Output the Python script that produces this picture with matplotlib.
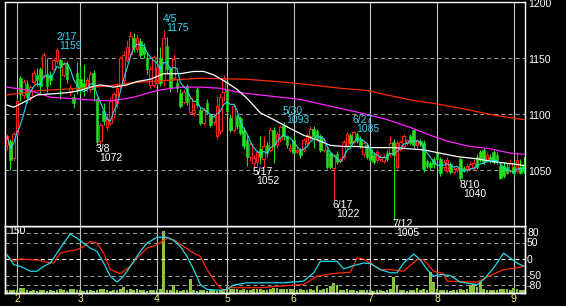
import numpy as np
import pandas as pd
import matplotlib
matplotlib.use("Agg")
import matplotlib.pyplot as plt

plt.rcParams['font.family'] = ['Liberation Sans', 'DejaVu Sans']
plt.rcParams['lines.scale_dashes'] = False

# ----------------------------------------------------------------------------------
# Section 0: values
# ----------------------------------------------------------------------------------

# daily candles (open, high, low, close), one list per month
jan_ohlc = [(1072, 1082, 1068, 1080), (1076, 1078, 1050, 1059), (1061, 1084, 1058, 1082)]
feb_ohlc = [
    (1082, 1114, 1080, 1112), (1132, 1134, 1112, 1118), (1117, 1131, 1114, 1129),
    (1127, 1130, 1110, 1115), (1115, 1126, 1112, 1124), (1129, 1139, 1127, 1137),
    (1135, 1141, 1125, 1130), (1140, 1142, 1119, 1125), (1134, 1155, 1132, 1153),
    (1136, 1150, 1120, 1125), (1135, 1138, 1126, 1130), (1140, 1150, 1138, 1148),
    (1147, 1159, 1145, 1157), (1148, 1150, 1113, 1144), (1135, 1147, 1133, 1145),
    (1145, 1147, 1128, 1131), (1120, 1126, 1116, 1123), (1115, 1118, 1105, 1110),
    (1137, 1146, 1118, 1122)]
mar_ohlc = [
    (1131, 1143, 1118, 1122), (1128, 1145, 1116, 1124), (1124, 1133, 1120, 1130),
    (1122, 1138, 1120, 1136), (1137, 1139, 1112, 1122), (1113, 1115, 1072, 1075),
    (1076, 1092, 1073, 1090), (1103, 1110, 1090, 1094), (1088, 1100, 1086, 1096),
    (1092, 1115, 1090, 1112), (1100, 1120, 1096, 1118), (1110, 1127, 1105, 1123),
    (1125, 1152, 1122, 1150), (1130, 1156, 1127, 1153), (1148, 1166, 1146, 1160),
    (1154, 1174, 1150, 1170), (1168, 1172, 1155, 1160), (1158, 1171, 1155, 1168),
    (1165, 1168, 1150, 1153), (1160, 1163, 1150, 1154), (1150, 1155, 1136, 1140),
    (1126, 1143, 1122, 1140), (1126, 1153, 1124, 1151)]
apr_ohlc = [
    (1128, 1146, 1126, 1142), (1150, 1160, 1125, 1128), (1130, 1175, 1125, 1168),
    (1161, 1169, 1136, 1140), (1140, 1142, 1120, 1123), (1132, 1154, 1130, 1149),
    (1128, 1131, 1120, 1123), (1119, 1122, 1105, 1107), (1111, 1122, 1109, 1120),
    (1125, 1127, 1108, 1111), (1102, 1116, 1100, 1114), (1101, 1110, 1098, 1104),
    (1122, 1124, 1106, 1108), (1104, 1106, 1090, 1092), (1092, 1106, 1090, 1104),
    (1110, 1113, 1100, 1102), (1099, 1101, 1088, 1090), (1093, 1100, 1090, 1098),
    (1080, 1116, 1078, 1107), (1085, 1118, 1082, 1115), (1120, 1135, 1112, 1132)]
may_ohlc = [
    (1122, 1124, 1100, 1103), (1096, 1100, 1084, 1086), (1086, 1110, 1084, 1107),
    (1098, 1100, 1087, 1089), (1096, 1098, 1081, 1083), (1086, 1088, 1069, 1071),
    (1077, 1080, 1054, 1062), (1062, 1075, 1058, 1073), (1056, 1063, 1052, 1061),
    (1057, 1068, 1054, 1066), (1069, 1080, 1055, 1062), (1060, 1080, 1053, 1071),
    (1072, 1075, 1062, 1065), (1068, 1088, 1066, 1086), (1086, 1088, 1056, 1072),
    (1072, 1084, 1070, 1082), (1078, 1090, 1075, 1088), (1090, 1093, 1077, 1080),
    (1080, 1081, 1070, 1072), (1068, 1074, 1066, 1070)]
jun_ohlc = [
    (1077, 1080, 1063, 1065), (1066, 1070, 1064, 1068), (1068, 1070, 1061, 1063),
    (1068, 1079, 1066, 1077), (1074, 1083, 1072, 1081), (1080, 1089, 1077, 1087),
    (1087, 1089, 1070, 1080), (1085, 1087, 1076, 1079), (1080, 1082, 1066, 1068),
    (1068, 1079, 1066, 1077), (1068, 1070, 1051, 1053), (1065, 1067, 1051, 1053),
    (1052, 1064, 1022, 1063), (1064, 1067, 1055, 1057), (1058, 1062, 1056, 1060),
    (1062, 1077, 1060, 1075), (1071, 1084, 1069, 1082), (1081, 1083, 1072, 1074),
    (1075, 1085, 1073, 1084), (1082, 1084, 1074, 1076), (1078, 1080, 1070, 1072),
    (1064, 1076, 1062, 1074), (1072, 1074, 1060, 1062)]
jul_ohlc = [
    (1069, 1072, 1057, 1059), (1063, 1066, 1055, 1057), (1059, 1068, 1057, 1066),
    (1060, 1064, 1058, 1062), (1058, 1064, 1056, 1062), (1065, 1068, 1058, 1060),
    (1065, 1080, 1062, 1074), (1075, 1078, 1005, 1063), (1053, 1076, 1051, 1074),
    (1069, 1077, 1067, 1075), (1071, 1082, 1069, 1080), (1074, 1078, 1072, 1077),
    (1080, 1082, 1072, 1074), (1086, 1087, 1070, 1072), (1072, 1078, 1070, 1077),
    (1076, 1078, 1071, 1073), (1074, 1077, 1048, 1051), (1058, 1060, 1052, 1054),
    (1056, 1058, 1050, 1053), (1060, 1062, 1052, 1055)]
aug_ohlc = [
    (1066, 1068, 1058, 1060), (1060, 1062, 1045, 1047), (1053, 1060, 1050, 1057),
    (1049, 1062, 1047, 1059), (1055, 1057, 1046, 1048), (1048, 1054, 1046, 1051),
    (1050, 1053, 1048, 1052), (1060, 1062, 1040, 1043), (1052, 1054, 1048, 1050),
    (1050, 1056, 1048, 1054), (1052, 1058, 1050, 1055), (1052, 1060, 1050, 1056),
    (1062, 1064, 1051, 1053), (1066, 1068, 1057, 1059), (1068, 1070, 1055, 1057),
    (1059, 1066, 1057, 1063), (1062, 1064, 1056, 1058), (1066, 1068, 1055, 1057),
    (1063, 1066, 1055, 1057), (1054, 1056, 1042, 1043), (1054, 1057, 1043, 1045),
    (1053, 1056, 1046, 1047), (1049, 1060, 1047, 1056)]
sep_ohlc = [(1053, 1058, 1045, 1047), (1049, 1066, 1047, 1059),
            (1053, 1060, 1046, 1047), (1054, 1062, 1047, 1049)]

# volume bars (lower panel, scale 0-150)
jan_vol = [7, 7, 6]
feb_vol = [7, 12, 11, 6, 5, 6, 5, 7, 6, 5, 7, 5, 6, 8, 6, 5, 10, 9, 6]
mar_vol = [6, 5, 6, 7, 5, 6, 10, 9, 6, 5, 6, 7, 8, 13, 7, 10, 6, 10, 7, 6, 5, 7, 6]
apr_vol = [6, 8, 138, 7, 6, 19, 6, 5, 6, 7, 31, 6, 5, 7, 6, 5, 7, 6, 5, 7, 8]
may_vol = [13, 8, 9, 9, 7, 8, 7, 6, 8, 9, 9, 7, 6, 8, 12, 11, 8, 10, 10, 10]
jun_vol = [10, 7, 8, 7, 6, 8, 7, 15, 6, 8, 12, 16, 22, 17, 7, 6, 8, 7, 6, 5, 7, 6, 7]
jul_vol = [6, 5, 7, 6, 5, 6, 8, 36, 17, 7, 6, 5, 6, 7, 12, 6, 8, 7, 47, 25]
aug_vol = [8, 7, 6, 6, 5, 7, 6, 8, 6, 9, 17, 20, 14, 25, 8, 7, 6, 7, 6, 9, 8, 10, 7]
sep_vol = [12, 8, 7, 6]

# longer moving averages (day index, price)
white_idx = [0, 2, 6, 9, 18, 22, 25, 28, 32, 36, 39, 43, 47, 52, 56, 59, 62, 66, 69, 72,
             76, 80, 85, 89, 93, 97, 101, 105, 109, 116, 125, 130, 135, 141, 147, 153, 155]
white_val = [1108, 1106, 1112, 1117, 1119, 1121, 1124, 1126, 1124, 1126, 1129, 1131, 1136,
             1136, 1138, 1138, 1135, 1128, 1122, 1114, 1101, 1095, 1087, 1081, 1077, 1072,
             1071, 1071, 1070, 1070, 1068, 1065, 1062, 1060, 1057, 1055, 1054]
magenta_idx = [0, 7, 13, 23, 28, 32, 38, 45, 52, 58, 64, 70, 76, 82, 88, 94, 100, 106,
               114, 121, 127, 133, 139, 145, 151, 155]
magenta_val = [1124, 1121, 1115, 1113, 1112, 1112, 1115, 1121, 1124, 1124, 1123, 1119, 1117,
               1115, 1113, 1109, 1105, 1101, 1095, 1088, 1081, 1075, 1071, 1069, 1065, 1064]
red_idx = [0, 10, 23, 30, 38, 48, 58, 72, 85, 94, 100, 108, 114, 122, 129, 138, 146, 155]
red_val = [1117, 1121, 1123, 1125, 1128, 1130, 1132, 1131, 1128, 1125, 1123, 1121, 1117,
           1112, 1109, 1104, 1099, 1095]

# oscillators in the lower panel (day index, value)
osc_fast_idx = [0, 2, 4, 7, 9, 11, 13, 15, 17, 19, 21, 23, 25, 27, 29, 31, 33, 35, 38, 40,
                42, 45, 48, 50, 52, 54, 56, 58, 60, 64, 66, 68, 72, 78, 83, 89, 92, 94, 99,
                101, 104, 107, 109, 112, 115, 117, 119, 122, 124, 126, 128, 130, 133, 136,
                141, 143, 146, 149, 151, 153, 155]
osc_fast_val = [13, -17, -22, -37, -37, -22, -12, 18, 48, 76, 63, 48, 33, 23, -12, -52, -70,
                -52, -7, 23, 48, 66, 66, 56, 38, 8, -32, -77, -92, -95, -92, -79, -72, -72,
                -72, -67, -42, -7, -7, -30, -20, -12, -14, -32, -42, -42, -12, 15, -2, -32,
                -52, -47, -50, -70, -78, -62, -27, 18, 3, -12, -22]
osc_slow_idx = [0, 2, 4, 7, 10, 12, 14, 16, 18, 21, 23, 25, 27, 29, 31, 34, 37, 39, 42, 45,
                48, 50, 53, 56, 58, 60, 63, 65, 67, 70, 76, 82, 89, 93, 98, 103, 105, 107,
                109, 112, 115, 119, 123, 125, 128, 131, 132, 135, 141, 145, 149, 153, 155]
osc_slow_val = [10, -7, 0, -2, -4, -10, -12, 18, 23, 28, 38, 53, 48, 18, -32, -44, -22, 3,
                33, 43, 63, 58, 38, 18, 8, -32, -77, -97, -87, -87, -87, -82, -77, -52, -44,
                -40, 3, 0, -12, -32, -32, -37, -2, -2, -37, -44, -67, -68, -70, -50, -32,
                -27, -22]

# labelled swing highs and lows
label_idx = [15, 27, 47, 74, 83, 98, 104, 116, 136]
label_date = ['2/17', '3/8', '4/5', '5/17', '5/30', '6/17', '6/27', '7/12', '8/10']
label_kind = ['H', 'L', 'H', 'L', 'H', 'L', 'H', 'L', 'L']

month_names = ['2', '3', '4', '5', '6', '7', '8', '9']
price_ticks = [1050, 1100, 1150, 1200]
osc_ticks = [80, 50, 0, -50, -80]

# ----------------------------------------------------------------------------------
# Section 1: build the daily frame
# ----------------------------------------------------------------------------------

month_ohlc = [jan_ohlc, feb_ohlc, mar_ohlc, apr_ohlc, may_ohlc, jun_ohlc, jul_ohlc, aug_ohlc, sep_ohlc]
month_vol = [jan_vol, feb_vol, mar_vol, apr_vol, may_vol, jun_vol, jul_vol, aug_vol, sep_vol]

df = pd.DataFrame([r for m in month_ohlc for r in m], columns=['open', 'high', 'low', 'close'])
df['volume'] = [v for m in month_vol for v in m]
df['ma_short'] = df['close'].rolling(5, min_periods=1).mean()
month_start = np.cumsum([len(m) for m in month_ohlc])[:-1]
x = np.arange(len(df))

UP = '#ff2020'
DOWN = '#1ee01e'
CYAN = '#22d8ec'
CYAN_TXT = '#3cd4f4'
MAGENTA = '#ff20ff'
RED_MA = '#ff2a00'
GRID = '#c4c4c4'
DASH = '#9a9a9a'
VOL = '#8ac43c'
YELLOW = '#fff080'
FS = 7.5

# ----------------------------------------------------------------------------------
# Section 2: figure
# ----------------------------------------------------------------------------------

W, H = 566, 306
fig = plt.figure(figsize=(W / 100, H / 100), dpi=100, facecolor='black')

def rect(left, top, right, bottom):
    return [left / W, 1 - bottom / H, (right - left) / W, (bottom - top) / H]

ax_vol = fig.add_axes(rect(4.5, 226, 525, 293), zorder=1)
ax_osc = fig.add_axes(rect(4.5, 226, 525, 293), zorder=2)
ax = fig.add_axes(rect(4.5, 2, 525, 226), zorder=3)

xlim = (-0.75, 155.4)
for a in (ax, ax_vol, ax_osc):
    a.set_xlim(*xlim)
    a.set_xticks([])
    a.set_yticks([])
    for s in a.spines.values():
        s.set_color('white')
        s.set_linewidth(1.0)
ax.set_facecolor('black')
ax_vol.set_facecolor('black')
ax_osc.patch.set_visible(False)

# --- main price panel ---
ax.set_ylim(1000, 1200)
for m in month_start:
    ax.axvline(m, color=GRID, lw=0.8, zorder=0.5)
for p in price_ticks[:-1]:
    ax.axhline(p, color=DASH, lw=0.75, dashes=(2.9, 2.2), zorder=0.6)

up = (df['close'] >= df['open']).values
body_lo = np.minimum(df['open'], df['close']).values
body_h = np.maximum(np.abs(df['close'] - df['open']).values, 0.8)

ax.vlines(x[up], df['low'][up], df['high'][up], color=UP, lw=0.8, zorder=2)
ax.vlines(x[~up], df['low'][~up], df['high'][~up], color=DOWN, lw=0.8, zorder=2)
ax.bar(x[up], body_h[up], bottom=body_lo[up], width=0.78, facecolor='black',
       edgecolor=UP, linewidth=0.8, zorder=3)
ax.bar(x[~up], body_h[~up], bottom=body_lo[~up], width=0.78, facecolor=DOWN,
       edgecolor=DOWN, linewidth=0.4, zorder=3)

ax.plot(red_idx, red_val, color=RED_MA, lw=0.9, zorder=4)
ax.plot(magenta_idx, magenta_val, color=MAGENTA, lw=0.9, zorder=4)
ax.plot(white_idx, white_val, color='white', lw=0.9, zorder=4)
ax.plot(x, df['ma_short'], color=CYAN, lw=0.8, zorder=5)

for i, d, k in zip(label_idx, label_date, label_kind):
    if k == 'H':
        y0, col, dy_d, dy_v = df['high'][i], CYAN_TXT, 10.5, 1.5
    else:
        y0, col, dy_d, dy_v = df['low'][i], 'white', -4, -13
    ax.annotate(d, (i, y0), xytext=(-1, dy_d), textcoords='offset pixels', color=col,
                fontsize=FS, ha='left', va='center', annotation_clip=False, zorder=6)
    ax.annotate(str(int(y0)), (i, y0), xytext=(2.5, dy_v), textcoords='offset pixels',
                color=col, fontsize=FS, ha='left', va='center', annotation_clip=False, zorder=6)

for p in price_ticks:
    ax.annotate(str(p), xy=(1, p), xycoords=('axes fraction', 'data'), xytext=(3, -2),
                textcoords='offset pixels', color='white', fontsize=FS, ha='left',
                va='center', annotation_clip=False)

# --- lower panel: volume + oscillators ---
ax_vol.set_ylim(0, 150)
ax_vol.bar(x, df['volume'], width=0.75, color=VOL, zorder=2)
for m in month_start:
    ax_vol.axvline(m, color=GRID, lw=0.8, zorder=1)

ax_osc.set_ylim(-103, 100)
for v in osc_ticks:
    col = 'white' if v == 0 else DASH
    ax_osc.axhline(v, color=col, lw=0.75, dashes=(2.9, 2.2), zorder=1)
ax_osc.plot(osc_slow_idx, osc_slow_val, color=RED_MA, lw=0.9, zorder=3)
ax_osc.plot(osc_fast_idx, osc_fast_val, color=CYAN, lw=0.9, zorder=3)

for v in osc_ticks:
    ax_osc.annotate(str(v), xy=(1, v), xycoords=('axes fraction', 'data'), xytext=(2, -0.5),
                    textcoords='offset pixels', color='white', fontsize=FS, ha='left',
                    va='center', annotation_clip=False)
for m, name in zip(month_start, month_names):
    ax_osc.annotate(name, xy=(m, 0), xycoords=('data', 'axes fraction'), xytext=(0, -5.5),
                    textcoords='offset pixels', color=YELLOW, fontsize=FS, ha='center',
                    va='center', annotation_clip=False)
ax_osc.annotate('150', xy=(0, 1), xycoords='axes fraction', xytext=(3.5, -5),
                textcoords='offset pixels', color='white', fontsize=FS, ha='left', va='center')

fig.savefig('out.png', dpi=100, facecolor='black')
